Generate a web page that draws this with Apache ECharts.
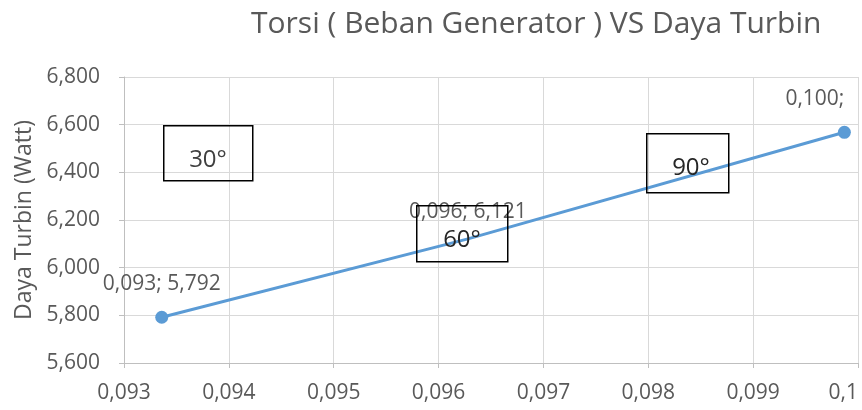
<!DOCTYPE html>
<html>
<head>
<meta charset="utf-8">
<script src="https://cdn.jsdelivr.net/npm/echarts@6/dist/echarts.min.js"></script>
<style>
  html, body { margin: 0; padding: 0; background: #fff; }
  #chart { width: 862px; height: 410px; }
</style>
</head>
<body>
<div id="chart"></div>
<script>
// torsi (x) vs daya turbin (y)
const torsiValues = [0.09336, 0.09628, 0.09987]
const dayaValues = [5.792, 6.121, 6.568]
const sudutLabels = ['30°', '60°', '90°']

const yTicks = { min: 5.6, max: 6.8, interval: 0.2 }
const xTicks = { min: 0.093, max: 0.1, interval: 0.001 }

const textColor = '#595959'
const gridColor = '#d9d9d9'
const fontFamily = '"Open Sans", sans-serif'

function koma (v, digits) {
  return v.toFixed(digits).replace('.', ',')
}

function xLabel (v) {
  return String(Number(v.toFixed(3))).replace('.', ',')
}

const chart = echarts.init(document.getElementById('chart'))

const seriesData = torsiValues.map((x, i) => {
  const item = { value: [x, dayaValues[i]] }
  if (i === 1) {
    // marker is not drawn for this point in the original
    item.symbolSize = 0
  }
  if (i === torsiValues.length - 1) {
    // Excel shifted this label left, it got cut at the edge
    item.label = {
      formatter: koma(x, 3) + ';',
      align: 'right',
      offset: [0, 0]
    }
  }
  return item
})

// annotation boxes (placed by hand in the original)
const boxes = [
  { left: 163, top: 125, width: 89, height: 55, textX: 208, textY: 160, color: '#404040' },
  { left: 416, top: 205, width: 91, height: 56, textX: 462, textY: 240, color: '#262626' },
  { left: 646, top: 133, width: 82, height: 59, textX: 691, textY: 168, color: '#262626' }
]

const graphics = []
boxes.forEach((b, i) => {
  graphics.push({
    type: 'rect',
    left: b.left,
    top: b.top,
    z: 100,
    shape: { width: b.width, height: b.height },
    style: { fill: 'transparent', stroke: '#000', lineWidth: 1.5 }
  })
  graphics.push({
    type: 'text',
    x: b.textX,
    y: b.textY,
    z: 101,
    style: {
      text: sudutLabels[i],
      fill: b.color,
      font: '24px "Open Sans", sans-serif',
      align: 'center',
      verticalAlign: 'middle'
    }
  })
})

chart.setOption({
  animation: false,
  backgroundColor: '#fff',
  title: {
    text: 'Torsi ( Beban Generator ) VS Daya Turbin',
    left: 246,
    top: 4,
    textStyle: {
      color: textColor,
      fontSize: 30,
      fontWeight: 'normal',
      fontFamily: fontFamily
    }
  },
  grid: {
    left: 124,
    right: 4,
    top: 77,
    bottom: 47,
    outerBoundsMode: 'none'
  },
  xAxis: {
    type: 'value',
    min: xTicks.min,
    max: xTicks.max,
    interval: xTicks.interval,
    axisLine: { show: true, lineStyle: { color: '#bfbfbf' } },
    axisTick: { show: true, length: 5, lineStyle: { color: '#bfbfbf' } },
    splitLine: { show: true, lineStyle: { color: gridColor } },
    axisLabel: {
      color: textColor,
      fontSize: 21,
      fontFamily: fontFamily,
      margin: 20,
      alignMaxLabel: 'right',
      formatter: xLabel
    }
  },
  yAxis: {
    type: 'value',
    min: yTicks.min,
    max: yTicks.max,
    interval: yTicks.interval,
    name: 'Daya Turbin (Watt)',
    nameLocation: 'middle',
    nameGap: 88,
    nameTextStyle: {
      color: textColor,
      fontSize: 23,
      fontFamily: fontFamily
    },
    axisLine: { show: true, lineStyle: { color: '#bfbfbf' } },
    axisTick: { show: true, length: 5, lineStyle: { color: '#bfbfbf' } },
    splitLine: { show: true, lineStyle: { color: gridColor } },
    axisLabel: {
      color: textColor,
      fontSize: 21,
      fontFamily: fontFamily,
      margin: 24,
      formatter: v => koma(v, 3)
    }
  },
  series: [
    {
      type: 'line',
      data: seriesData,
      symbol: 'circle',
      symbolSize: 13,
      lineStyle: { color: '#5b9bd5', width: 3 },
      itemStyle: { color: '#5b9bd5' },
      label: {
        show: true,
        position: 'top',
        distance: 16,
        color: textColor,
        fontSize: 21,
        fontFamily: fontFamily,
        formatter: p => koma(p.value[0], 3) + '; ' + koma(p.value[1], 3)
      }
    }
  ],
  graphic: graphics
})
</script>
</body>
</html>
